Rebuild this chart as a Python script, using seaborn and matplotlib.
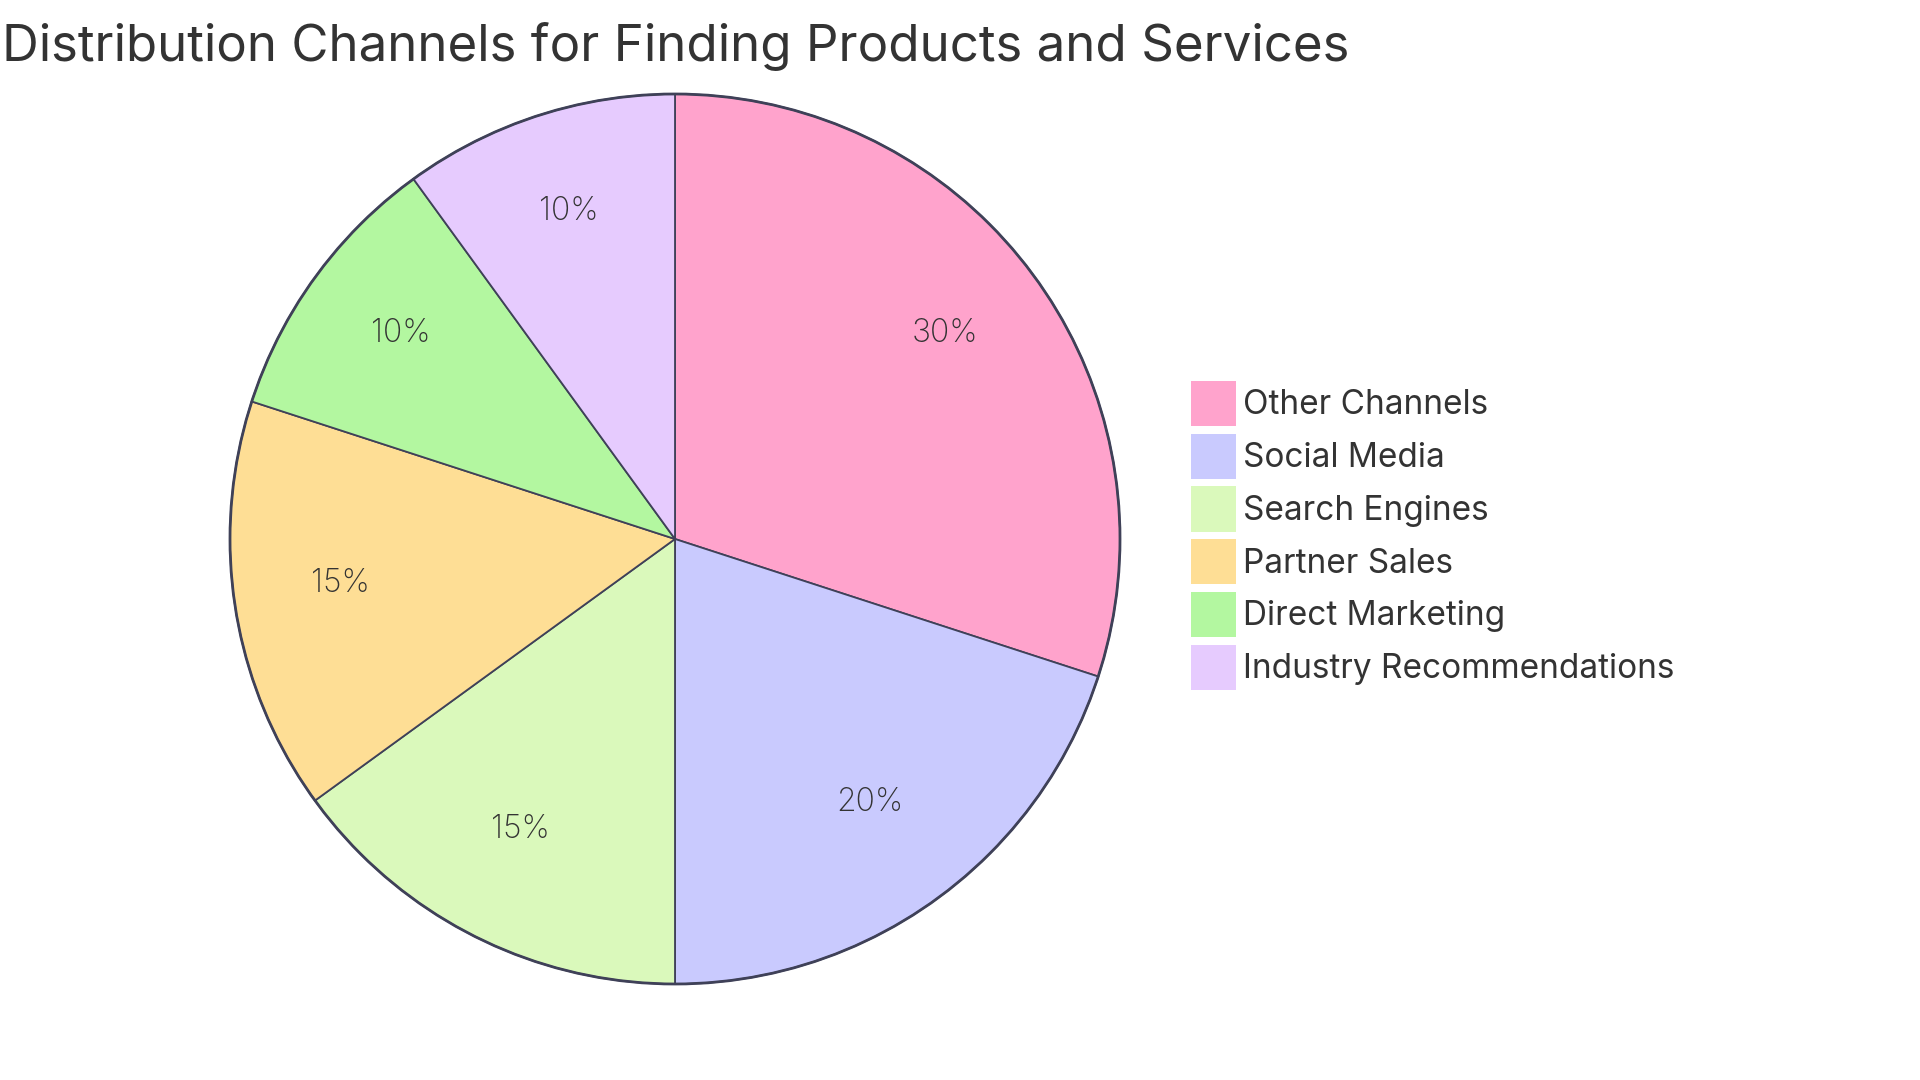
import matplotlib
matplotlib.use("Agg")
import matplotlib.pyplot as plt
import matplotlib.patches as mpatches
import seaborn as sns

# ---- data ----
title = "Distribution Channels for Finding Products and Services"
categories = ["Other Channels", "Social Media", "Search Engines",
              "Partner Sales", "Direct Marketing", "Industry Recommendations"]
values = [30, 20, 15, 15, 10, 10]
colors = ["#FFA3CC", "#C9CAFE", "#DAF9BB", "#FEDE95", "#B3F7A0", "#E6CBFE"]

sns.set_theme(style="white")
plt.rcParams["font.family"] = ["Inter", "DejaVu Sans"]

W, H = 1920, 1080
fig = plt.figure(figsize=(W / 100, H / 100), dpi=100)
fig.patch.set_facecolor("white")

cx, cy, r = 675, 539, 445
pad = 1.02
ax = fig.add_axes([(cx - r * pad) / W, (H - cy - r * pad) / H,
                   2 * r * pad / W, 2 * r * pad / H])
ax.set_aspect("equal")
ax.axis("off")

edge = "#3F4158"
wedges, texts, autotexts = ax.pie(
    values, colors=colors, startangle=90, counterclock=False,
    autopct="%1.0f%%", pctdistance=0.755, radius=1.0,
    wedgeprops=dict(edgecolor=edge, linewidth=1.3),
    textprops=dict(fontsize=23, color="#333333", fontweight="light"))
for t in autotexts:
    x, y = t.get_position()
    t.set_position((x - 0.005, y + 0.019))
ax.set_xlim(-pad, pad)
ax.set_ylim(-pad, pad)
ax.add_patch(mpatches.Circle((0, 0), 1.0, fill=False, edgecolor=edge, linewidth=2.0))

fig.text(2 / W, 1 - 61 / H, title, fontsize=36.7, color="#333333",
         ha="left", va="baseline")

handles = [mpatches.Patch(facecolor=c, edgecolor="none") for c in colors]
fs = 24
fpx = fs * 100 / 72
fig.legend(handles, categories, loc="upper left",
           bbox_to_anchor=(1191 / W, 1 - 381 / H), bbox_transform=fig.transFigure,
           frameon=False, fontsize=fs, borderpad=0, borderaxespad=0,
           handlelength=45 / fpx, handleheight=1.29 * 44 / fpx,
           handletextpad=0.22, labelspacing=0.23, labelcolor="#333333")

fig.savefig("out.png", dpi=100, facecolor="white")
